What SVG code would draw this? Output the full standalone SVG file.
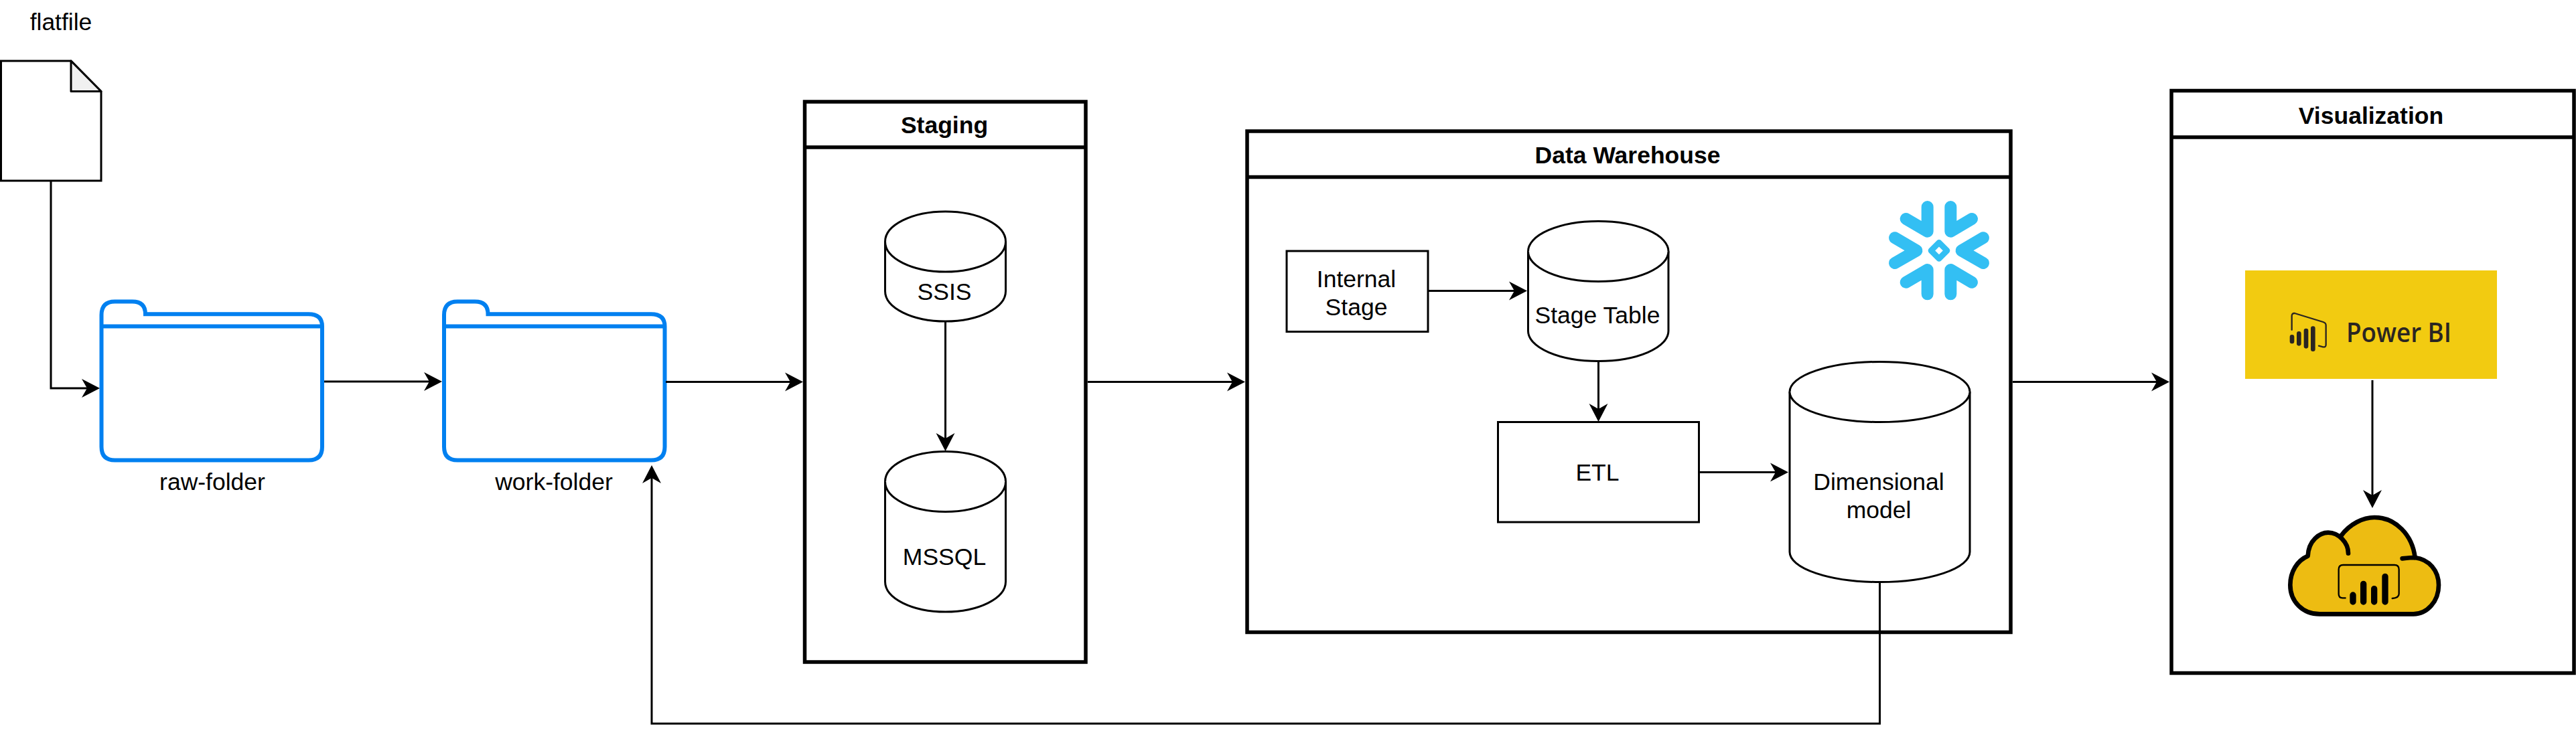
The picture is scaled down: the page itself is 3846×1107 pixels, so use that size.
<svg xmlns="http://www.w3.org/2000/svg" xmlns:xlink="http://www.w3.org/1999/xlink" width="3846" height="1107" viewBox="0 0 3846 1107">
<style>
text{font-family:"Liberation Sans",Arial,sans-serif;font-size:35.5px;fill:#000;text-anchor:middle}
.t{font-weight:bold}
.frame{fill:#fff;stroke:#000;stroke-width:5.5}
.sh{fill:#fff;stroke:#000;stroke-width:3}
.fo{fill:#fff;stroke:#0080f0;stroke-width:6}
.c{fill:none;stroke:#000;stroke-width:3;marker-end:url(#a)}
.sf{fill:none;stroke:#33bff3;stroke-width:54;stroke-linecap:round;stroke-linejoin:round}
</style>
<defs>
<marker id="a" markerUnits="userSpaceOnUse" markerWidth="32" markerHeight="32" viewBox="0 -16 32 32" refX="18" refY="0" orient="auto"><path d="M0 -14L27 0L0 14L8 0Z" fill="#000"/></marker>
<g id="folder"><path class="fo" d="M0 20Q0 0 20 0H46Q65.500 0 65.500 18.700H309Q329.500 18.700 329.500 37V217Q329.500 237 309.500 237H20Q0 237 0 217Z"/><path class="fo" d="M0 37H329.500"/></g>
</defs>
<rect width="3846" height="1107" fill="#fff"/>
<g id="flatfile">
<path class="sh" d="M1.500 91H106L151 136.500V270H1.500Z"/>
<path d="M106 91L151 136.500H106Z" fill="#f0f0f0" stroke="#000" stroke-width="3" stroke-linejoin="round"/>
<text x="91" y="45">flatfile</text>
</g>
<g id="raw-folder"><use href="#folder" xlink:href="#folder" x="151.500" y="450.500"/><text x="317" y="732">raw-folder</text></g>
<g id="work-folder"><use href="#folder" xlink:href="#folder" x="663" y="450.500"/><text x="827" y="732">work-folder</text></g>
<g id="staging">
<rect class="frame" x="1201.500" y="152" width="419.500" height="837"/>
<path class="frame" d="M1201.500 220H1621"/>
<text class="t" x="1410" y="199">Staging</text>
</g>
<g id="ssis">
<path class="sh" d="M1321.500 361A90 45 0 0 1 1501.500 361V435A90 45 0 0 1 1321.500 435Z"/>
<path class="sh" d="M1321.500 361A90 45 0 0 0 1501.500 361"/>
<text x="1410" y="448">SSIS</text>
</g>
<g id="mssql">
<path class="sh" d="M1321.500 719.500A90 45 0 0 1 1501.500 719.500V869A90 45 0 0 1 1321.500 869Z"/>
<path class="sh" d="M1321.500 719.500A90 45 0 0 0 1501.500 719.500"/>
<text x="1410" y="844">MSSQL</text>
</g>
<g id="data-warehouse">
<rect class="frame" x="1862" y="196" width="1140" height="748.500"/>
<path class="frame" d="M1862 264.500H3002"/>
<text class="t" x="2430" y="244">Data Warehouse</text>
</g>
<g id="snowflake" transform="translate(2780 280) scale(.33333)">
<path class="sf" d="M293 87V197L197 141M397 87V197L492 141M293 478V369L197 425M397 478V369L492 425M147 226L244 283L147 339M543 226L446 283L543 339"/>
<path d="M345 247L381 283L345 319L309 283Z" fill="none" stroke="#33bff3" stroke-width="26" stroke-linejoin="round"/>
</g>
<g id="internal-stage">
<rect class="sh" x="1921" y="375" width="211" height="120.500"/>
<text x="2025" y="429">Internal</text><text x="2025" y="471">Stage</text>
</g>
<g id="stage-table">
<path class="sh" d="M2281.500 375.500A104.750 45 0 0 1 2491 375.500V494.500A104.750 45 0 0 1 2281.500 494.500Z"/>
<path class="sh" d="M2281.500 375.500A104.750 45 0 0 0 2491 375.500"/>
<text x="2385" y="483">Stage Table</text>
</g>
<g id="etl">
<rect class="sh" x="2236.500" y="630.500" width="300" height="149.500"/>
<text x="2385" y="718">ETL</text>
</g>
<g id="dimensional-model">
<path class="sh" d="M2672 585.500A134.500 45 0 0 1 2941 585.500V824.500A134.500 45 0 0 1 2672 824.500Z"/>
<path class="sh" d="M2672 585.500A134.500 45 0 0 0 2941 585.500"/>
<text x="2805" y="732">Dimensional</text><text x="2805" y="774">model</text>
</g>
<g id="visualization">
<rect class="frame" x="3242" y="135.500" width="601" height="870"/>
<path class="frame" d="M3242 205H3843"/>
<text class="t" x="3540" y="185">Visualization</text>
</g>
<g id="power-bi">
<rect x="3352" y="404" width="376" height="162" fill="#f2cb11"/>
<g transform="translate(3340 400) scale(.33333)" fill="none" stroke="#2a2522" stroke-linecap="round" stroke-linejoin="round">
<path stroke-width="7" d="M245 278V216Q245 203 258 204L385 243Q398 247 398 258V345Q398 357 385 355L366 350"/>
<path stroke-width="20" d="M246 310V330M277 295V340M309 282V352M340 272V365"/>
</g>
<text x="3581.500" y="510.700" textLength="157" lengthAdjust="spacingAndGlyphs" style="font-family:'Open Sans',sans-serif;font-size:39px;font-weight:600;fill:#2a2522">Power BI</text>
</g>
<g id="power-bi-service" transform="translate(3400 749) scale(.33333)">
<path fill="#edbc12" d="M137 245C140 175 190 140 228 140C255 140 275 150 290 160C330 95 385 72 435 72C530 72 605 150 617 250C680 260 723 310 723 375C723 450 670 505 610 505H190C115 505 58 450 58 375C58 315 90 265 137 245Z"/>
<g fill="none" stroke="#000" stroke-linecap="round" stroke-linejoin="round">
<path stroke-width="20" d="M318 233C318 185 275 140 228 140C190 140 140 175 137 245C90 265 58 315 58 375C58 450 115 505 190 505H610C670 505 723 450 723 375C723 310 680 260 617 252C600 252 580 254 560 256"/>
<path stroke-width="20" d="M285 155C325 100 385 72 435 72C530 72 605 150 617 252"/>
<path stroke-width="7" d="M305 433H292Q275 433 275 415V305Q275 285 295 285H525Q545 285 545 305V415Q545 433 515 435"/>
<path stroke-width="28" d="M339 420V450M386 370V450M434 392V450M483 337V450"/>
</g>
</g>
<g id="connectors">
<path class="c" d="M76 270V580H140"/>
<path class="c" d="M484 570H651"/>
<path class="c" d="M994 570.500H1190"/>
<path class="c" d="M1411.500 481V665"/>
<path class="c" d="M1624 570.500H1850"/>
<path class="c" d="M2132 434.500H2271"/>
<path class="c" d="M2386.500 539.500V621"/>
<path class="c" d="M2536.500 705.500H2661"/>
<path class="c" d="M3005 570.500H3230"/>
<path class="c" d="M3542 568V750"/>
<path class="c" d="M2806.500 869.500V1081H973V704"/>
</g>
</svg>
